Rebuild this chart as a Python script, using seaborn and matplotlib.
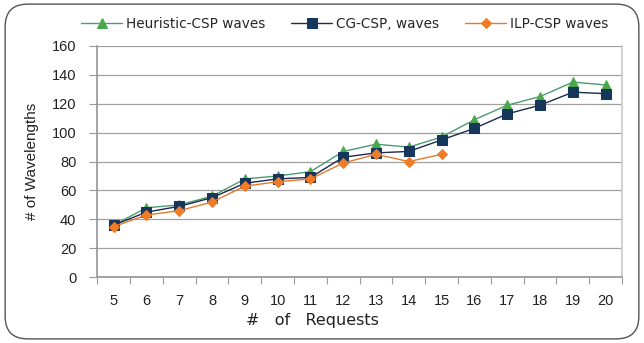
import matplotlib
matplotlib.use("Agg")
import matplotlib.pyplot as plt
from matplotlib.patches import FancyBboxPatch
from matplotlib.ticker import FixedLocator
import seaborn as sns
import pandas as pd

requests = list(range(5, 21))
heuristic = [36, 48, 50, 56, 68, 70, 73, 87, 92, 90, 97, 109, 119, 125, 135, 133]
cg = [36, 45, 49, 55, 65, 68, 69, 83, 86, 87, 95, 103, 113, 119, 128, 127]
ilp = [35, 43, 46, 52, 63, 66, 68, 79, 85, 80, 85]
y_ticks = [0, 20, 40, 60, 80, 100, 120, 140, 160]

sns.set_theme(style="white")
plt.rcParams['font.family'] = ['Liberation Sans', 'DejaVu Sans']

fig = plt.figure(figsize=(6.44, 3.43), dpi=100)
ax = fig.add_axes([0.151, 0.192, 0.815, 0.674])

border = FancyBboxPatch((0.008, 0.012), 0.984, 0.976, boxstyle="round,pad=0,rounding_size=0.035",
                        transform=fig.transFigure, facecolor="white", edgecolor="#555555",
                        linewidth=1.0, mutation_aspect=644/343, zorder=-10)
fig.patches.append(border)

df_h = pd.DataFrame({"x": requests, "y": heuristic})
df_c = pd.DataFrame({"x": requests, "y": cg})
df_i = pd.DataFrame({"x": requests[:len(ilp)], "y": ilp})

sns.lineplot(data=df_h, x="x", y="y", ax=ax, color="#4f9a72", marker="^", markersize=7,
             markerfacecolor="#4aa84a", markeredgecolor="#4aa84a", linewidth=1.0,
             label="Heuristic-CSP waves", zorder=3)
sns.lineplot(data=df_c, x="x", y="y", ax=ax, color="#1a2b4c", marker="s", markersize=7,
             markerfacecolor="#16365c", markeredgecolor="#16365c", linewidth=1.0,
             label="CG-CSP, waves", zorder=4)
sns.lineplot(data=df_i, x="x", y="y", ax=ax, color="#e8782a", marker="D", markersize=5.5,
             markerfacecolor="#f07c28", markeredgecolor="#f07c28", linewidth=1.0,
             label="ILP-CSP waves", zorder=5)

ax.set_xlim(4.5, 20.5)
ax.set_ylim(0, 160)
ax.set_yticks(y_ticks)
ax.set_xticks(requests)
ax.xaxis.set_minor_locator(FixedLocator([v + 0.5 for v in range(4, 21)]))
ax.tick_params(axis="x", which="major", length=0, labelsize=10.5, pad=12, colors="#222222")
ax.tick_params(axis="x", which="minor", length=5, width=0.8, color="#999999", direction="out", bottom=True)
ax.tick_params(axis="y", which="major", length=6, width=0.8, color="#999999", direction="out",
               left=True, labelsize=10.5, pad=9, colors="#222222")
ax.grid(axis="y", color="#a0a0a0", linewidth=0.9)
ax.set_axisbelow(True)
ax.spines["top"].set_visible(False)
ax.spines["right"].set_color("#cccccc")
ax.spines["left"].set_color("#999999")
ax.spines["bottom"].set_color("#999999")

ax.set_xlabel("#   of   Requests", fontsize=11.5, color="#222222",
              family=['DejaVu Sans'])
ax.xaxis.set_label_coords(0.41, -0.155)
ax.set_ylabel("# of Wavelengths", fontsize=11, color="#222222", labelpad=9)

leg = ax.legend(loc="center", bbox_to_anchor=(0.472, 1.095), ncol=3, frameon=False,
                prop={"family": "DejaVu Sans", "size": 9.8}, handlelength=3.0,
                columnspacing=1.9, handletextpad=0.3, borderaxespad=0)

fig.savefig("out.png", dpi=100)
